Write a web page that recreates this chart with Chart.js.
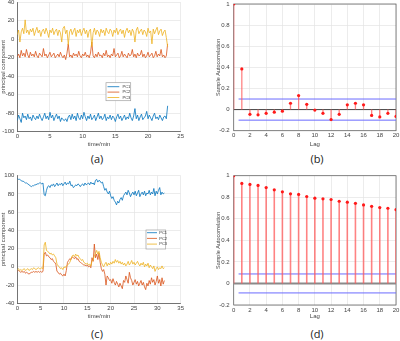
<!DOCTYPE html>
<html><head><meta charset="utf-8">
<script src="https://cdn.jsdelivr.net/npm/chart.js@4"></script>
<style>
html,body{margin:0;padding:0;background:#fff}
body{width:400px;height:341px;position:relative;overflow:hidden}
canvas{position:absolute}
.lbl{position:absolute;font-family:"Open Sans","Noto Sans",sans-serif;font-size:11px;color:#222;transform:translate(-50%,-50%);white-space:nowrap}
</style>
</head><body>
<canvas id="ca" width="200" height="148" style="left:0;top:0;width:200px;height:148px"></canvas>
<canvas id="cb" width="200" height="148" style="left:200px;top:0;width:200px;height:148px"></canvas>
<canvas id="cc" width="200" height="150" style="left:0;top:170px;width:200px;height:150px"></canvas>
<canvas id="cd" width="200" height="150" style="left:200px;top:170px;width:200px;height:150px"></canvas>
<div class="lbl" style="left:97px;top:158px">(a)</div>
<div class="lbl" style="left:317px;top:158px">(b)</div>
<div class="lbl" style="left:97px;top:333px">(c)</div>
<div class="lbl" style="left:317px;top:333px">(d)</div>
<script>
// ---------- data ----------
const seriesNames = ['PC1', 'PC2', 'PC3'];
const seriesColors = ['#0072BD', '#D95319', '#EDB120'];

// panel (a): sampled every 0.2 min
const dtA = 0.2;
const pc1A = [-88,-82,-86,-90,-80,-85,-83,-87,-81,-86, -84,-88,-82,-85,-87,-83,-86,-81,-85,-88,
  -84,-80,-86,-83,-87,-79,-85,-82,-88,-84, -81,-86,-83,-89,-85,-87,-88,-86,-89,-84,
  -82,-87,-81,-86,-83,-88,-80,-85,-87,-82, -86,-79,-84,-88,-83,-86,-81,-87,-85,-82,
  -88,-84,-80,-86,-83,-87,-85,-81,-88,-84, -86,-82,-87,-83,-85,-89,-84,-81,-86,-83,
  -88,-85,-82,-87,-84,-86,-80,-85,-88,-83, -75,-86,-82,-88,-84,-81,-87,-85,-83,-78,
  -86,-82,-85,-88,-83,-80,-86,-84,-87,-82, -85,-88,-84,-83,-86,-72];
const pc2A = [-19,-16,-20,-12,-18,-15,-19,-11,-17,-20, -14,-18,-16,-19,-13,-18,-20,-15,-17,-19,
  -10,-18,-16,-20,-17,-14,-19,-17,-15,-20, -18,-16,-19,-14,-18,-20,-17,-22,-15,-5,
  -19,-17,-20,-15,-18,-16,-19,-13,-18,-20, -16,-18,-14,-19,-17,-20,-15,-3,-18,-20,
  -16,-19,-14,-18,-17,-20,-15,-18,-12,-19, -17,-20,-16,-18,-10,-19,-17,-15,-20,-18,
  -13,-19,-16,-18,-20,-15,-18,-17,-11,-19, -16,-20,-15,-18,-17,-12,-19,-16,-20,-18,
  -14,-19,-17,-15,-20,-18,-13,-19,-16,-18, -11,-19,-17,-20,-18,-5];
const pc3A = [5,10,-3,8,12,6,21,7,10,5, 11,8,12,4,9,13,7,10,3,9,
  11,6,12,8,2,10,7,12,5,9, 11,4,10,7,-3,12,14,6,10,-6,
  8,11,5,9,12,3,10,7,11,4, 9,12,6,10,2,9,11,-8,7,12,
  5,10,8,3,11,7,10,4,12,8, 6,11,9,3,10,7,12,5,9,11,
  6,10,2,9,12,7,10,4,11,8, -3,10,13,6,9,11,5,10,8,3,
  12,7,9,-5,11,6,10,13,5,9, 11,4,8,10,2,-8];

// panel (c): sampled every 0.25 min
const dtC = 0.25;
const pc1C = [97,96,96,95,94,94,93,92,92,91, 90,89,88,89,89,90,90,91,91,92,
  92,91,92,79,78,84,88,89,87,90, 89,91,88,90,92,89,91,90,92,89,
  91,93,90,92,91,94,89,90,87,88, 90,89,91,90,88,90,91,89,92,90,
  91,92,90,93,91,92,90,95,96,93, 95,94,92,93,88,84,86,82,80,83,
  78,75,77,73,71,68,72,70,74,76, 73,78,80,82,79,84,81,77,80,82,
  79,83,78,81,84,77,80,82,79,83, 78,81,80,84,79,82,80,86,78,83,
  80,84,87,79,82,80,81];
const pc2C = [-5,-4,-5,-6,-5,-6,-5,-7,-6,-7, -8,-7,-6,-6,-5,-6,-5,-6,-5,-6,
  -5,-6,-5,14,16,12,13,11,10,8, 9,6,5,3,-5,-6,-8,-7,-9,-10,
  -8,-10,-4,5,7,9,8,11,10,9, 11,8,9,6,5,4,3,2,2,1,
  2,0,1,-1,10,6,25,10,14,8, 15,5,-2,-5,-3,-8,-20,-10,-12,-15,
  -14,-18,-13,-17,-20,-16,-19,-22,-18,-21, -24,-15,-17,-10,-14,-18,-6,-12,-15,-20,
  -17,-14,-19,-16,-21,-18,-15,-20,-17,-22, -25,-18,-21,-15,-19,-12,-17,-14,-20,-16,
  -10,-18,-14,-21,-12,-19,-15];
const pc3C = [-3,-2,-4,-3,-4,-3,-2,-4,-3,-2, -4,-3,-2,-3,-1,-2,-3,-2,-1,-2,
  -2,-1,-2,24,27,18,17,16,14,15, 13,14,12,10,3,1,0,-2,-1,-3,
  0,-1,1,2,3,5,8,12,13,11, 14,12,13,10,9,7,8,5,4,3,
  4,2,3,1,6,8,12,15,18,14, 17,10,5,2,0,3,5,1,4,2,
  5,3,6,4,8,5,7,4,6,3, 5,2,4,1,3,6,2,4,7,3,
  5,2,4,6,3,1,4,2,5,0, 3,1,4,-1,2,0,-2,1,-5,-2,
  0,-3,-1,-2,1,-2,-1];

// panels (b), (d): sample autocorrelation
const lags = [0,1,2,3,4,5,6,7,8,9,10,11,12,13,14,15,16,17,18,19,20];
const acfB = [1,0.385,-0.045,-0.05,-0.035,-0.025,-0.015,0.06,0.133,0.05,-0.005,-0.035,-0.095,-0.045,0.045,0.06,0.045,-0.055,-0.07,-0.035,-0.065];
const boundB = 0.1;
const acfD = [1,0.928,0.919,0.91,0.89,0.869,0.85,0.832,0.826,0.807,0.791,0.785,0.779,0.763,0.754,0.744,0.729,0.716,0.704,0.698,0.685];
const boundD = 0.088;
const boundLagStart = 0.6;

// tick settings
const xTicksA = {min:0, max:25, step:5};
const yTicksA = {min:-100, max:40, step:20};
const xTicksC = {min:0, max:35, step:5};
const yTicksC = {min:-40, max:100, step:20};
const xTicksAcf = {min:0, max:20, step:2};
const yTicksAcf = {min:-0.2, max:1, step:0.2};

// ---------- helpers ----------
Chart.defaults.font.family = '"Liberation Sans", Arial, sans-serif';
Chart.defaults.font.size = 6;
Chart.defaults.color = '#444';

const fmt = v => String(Number(v.toFixed(2)));
const GRID = '#e4e4e4';

const framePlugin = {
  id: 'frame',
  beforeDatasetsDraw(chart, args, o) {
    if (!o || !o.color) return;
    const {left, top, right, bottom} = chart.chartArea;
    const ctx = chart.ctx;
    ctx.save();
    ctx.strokeStyle = o.color; ctx.lineWidth = o.width;
    ctx.strokeRect(left, top, right - left, bottom - top);
    ctx.restore();
  }
};
const legendPlugin = {
  id: 'boxLegend',
  afterDraw(chart, args, o) {
    if (!o || !o.w) return;
    const ctx = chart.ctx;
    ctx.save();
    ctx.fillStyle = '#fff'; ctx.strokeStyle = '#a0a0a0'; ctx.lineWidth = 0.7;
    ctx.fillRect(o.x, o.y, o.w, o.h);
    ctx.strokeRect(o.x, o.y, o.w, o.h);
    seriesNames.forEach((name, i) => {
      const y = o.y + o.row0 + i * o.dy;
      ctx.strokeStyle = seriesColors[i]; ctx.lineWidth = 0.8;
      ctx.beginPath(); ctx.moveTo(o.lx1, y); ctx.lineTo(o.lx2, y); ctx.stroke();
      ctx.fillStyle = '#333'; ctx.font = '4px "Liberation Sans", Arial, sans-serif';
      ctx.textBaseline = 'middle'; ctx.textAlign = 'left';
      ctx.fillText(name, o.tx, y);
    });
    ctx.restore();
  }
};

function scaleX(t, title, h, axisBorder) {
  return {
    type: 'linear', min: t.min, max: t.max,
    ticks: {stepSize: t.step, padding: 1.5, maxRotation: 0, autoSkip: false, callback: fmt, color: '#444'},
    grid: {color: GRID, lineWidth: 0.7, drawTicks: false},
    border: {display: axisBorder, color: '#555', width: 0.8},
    title: {display: true, text: title, padding: 0, color: '#444', font: {size: 6}},
    afterFit: s => { s.height = h; s.paddingLeft = 0; s.paddingRight = 0; }
  };
}
function scaleY(t, title, w, pad, tsize, axisBorder) {
  return {
    type: 'linear', min: t.min, max: t.max,
    ticks: {stepSize: t.step, padding: pad, callback: fmt, color: '#444'},
    grid: {color: GRID, lineWidth: 0.7, drawTicks: false},
    border: {display: axisBorder, color: '#555', width: 0.8},
    title: {display: true, text: title, padding: 0, color: '#444', font: {size: tsize}},
    afterFit: s => { s.width = w; s.paddingTop = 0; s.paddingBottom = 0; }
  };
}
function series(arr, dt, i) {
  return {
    type: 'line', label: seriesNames[i],
    data: arr.map((v, k) => ({x: k * dt, y: v})),
    borderColor: seriesColors[i], borderWidth: 0.8, pointRadius: 0, tension: 0,
    order: 3 - i
  };
}
function tsChart(id, arrs, dt, xt, yt, pad, xh, leg) {
  return new Chart(document.getElementById(id), {
    type: 'line',
    data: {datasets: arrs.map((a, i) => series(a, dt, i))},
    options: {
      responsive: false, animation: false, parsing: true,
      layout: {padding: pad},
      plugins: {legend: {display: false}, tooltip: {enabled: false}, boxLegend: leg},
      scales: {
        x: scaleX(xt, 'time/min', xh, true),
        y: scaleY(yt, 'principal component', 17.3, 3, 6, true)
      }
    },
    plugins: [legendPlugin]
  });
}
function acfChart(id, acf, bound, pad, xh, zeroColor, zeroWidth, stemW) {
  const stems = lags.flatMap((l, i) => [{x: l, y: 0}, {x: l, y: acf[i]}, {x: l, y: null}]);
  const marks = lags.map((l, i) => ({x: l, y: acf[i]}));
  const last = lags[lags.length - 1];
  return new Chart(document.getElementById(id), {
    type: 'line',
    data: {datasets: [
      {type: 'scatter', data: marks, pointRadius: 1.6, pointBackgroundColor: '#ff1a1a', pointBorderWidth: 0, showLine: false, order: 0},
      {data: stems, borderColor: 'rgba(255,90,90,0.75)', borderWidth: stemW, pointRadius: 0, spanGaps: false, order: 1},
      {data: [{x: boundLagStart, y: bound}, {x: last, y: bound}], borderColor: '#6a6aff', borderWidth: 1, pointRadius: 0, order: 2},
      {data: [{x: boundLagStart, y: -bound}, {x: last, y: -bound}], borderColor: '#6a6aff', borderWidth: 1, pointRadius: 0, order: 2},
      {data: [{x: lags[0], y: 0}, {x: last, y: 0}], borderColor: zeroColor, borderWidth: zeroWidth, pointRadius: 0, order: 3}
    ]},
    options: {
      responsive: false, animation: false,
      layout: {padding: pad},
      plugins: {legend: {display: false}, tooltip: {enabled: false}, frame: {color: '#666', width: 0.8}},
      scales: {
        x: scaleX(xTicksAcf, 'Lag', xh, false),
        y: scaleY(yTicksAcf, 'Sample Autocorrelation', 19, 4, 5.5, false)
      }
    },
    plugins: [framePlugin]
  });
}

tsChart('ca', [pc1A, pc2A, pc3A], dtA, xTicksA, yTicksA, {left: 0, top: 2.3, right: 19.3, bottom: 0}, 16.3,
  {x: 106, y: 82.7, w: 24.7, h: 18, row0: 4, dy: 5.4, lx1: 107.5, lx2: 119.3, tx: 122.5});
acfChart('cb', acfB, boundB, {left: 14.7, top: 2.3, right: 3.3, bottom: 0}, 17.3, '#444', 1, 1.3);
tsChart('cc', [pc1C, pc2C, pc3C], dtC, xTicksC, yTicksC, {left: 0, top: 5.7, right: 19.3, bottom: 0}, 16.7,
  {x: 146, y: 60, w: 19.7, h: 19, row0: 2.7, dy: 5.7, lx1: 147, lx2: 157, tx: 159.3});
acfChart('cd', acfD, boundD, {left: 14.7, top: 5.7, right: 3.3, bottom: 0}, 15, '#8a8a8a', 2, 1.6);
</script>
</body></html>
